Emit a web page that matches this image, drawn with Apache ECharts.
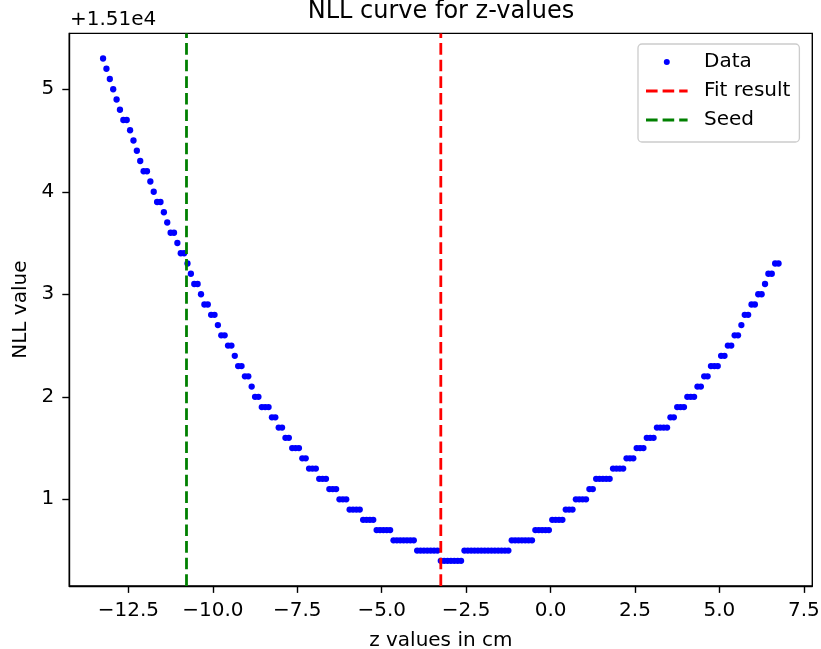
<!DOCTYPE html>
<html><head><meta charset="utf-8">
<script src="https://cdn.jsdelivr.net/npm/echarts@6/dist/echarts.min.js"></script>
<style>html,body{margin:0;padding:0;background:#fff}#c{width:821px;height:649px}</style>
</head><body><div id="c"></div>
<script>
const zValues = [
-13.25,-13.15,-13.05,-12.95,-12.85,-12.75,-12.65,-12.55,-12.45,-12.35,
-12.25,-12.15,-12.05,-11.95,-11.85,-11.75,-11.65,-11.55,-11.45,-11.35,
-11.25,-11.15,-11.05,-10.95,-10.85,-10.75,-10.65,-10.55,-10.45,-10.35,
-10.25,-10.15,-10.05,-9.95,-9.85,-9.75,-9.65,-9.55,-9.45,-9.35,
-9.25,-9.15,-9.05,-8.95,-8.85,-8.75,-8.65,-8.55,-8.45,-8.35,
-8.25,-8.15,-8.05,-7.95,-7.85,-7.75,-7.65,-7.55,-7.45,-7.35,
-7.25,-7.15,-7.05,-6.95,-6.85,-6.75,-6.65,-6.55,-6.45,-6.35,
-6.25,-6.15,-6.05,-5.95,-5.85,-5.75,-5.65,-5.55,-5.45,-5.35,
-5.25,-5.15,-5.05,-4.95,-4.85,-4.75,-4.65,-4.55,-4.45,-4.35,
-4.25,-4.15,-4.05,-3.95,-3.85,-3.75,-3.65,-3.55,-3.45,-3.35,
-3.25,-3.15,-3.05,-2.95,-2.85,-2.75,-2.65,-2.55,-2.45,-2.35,
-2.25,-2.15,-2.05,-1.95,-1.85,-1.75,-1.65,-1.55,-1.45,-1.35,
-1.25,-1.15,-1.05,-0.95,-0.85,-0.75,-0.65,-0.55,-0.45,-0.35,
-0.25,-0.15,-0.05,0.05,0.15,0.25,0.35,0.45,0.55,0.65,
0.75,0.85,0.95,1.05,1.15,1.25,1.35,1.45,1.55,1.65,
1.75,1.85,1.95,2.05,2.15,2.25,2.35,2.45,2.55,2.65,
2.75,2.85,2.95,3.05,3.15,3.25,3.35,3.45,3.55,3.65,
3.75,3.85,3.95,4.05,4.15,4.25,4.35,4.45,4.55,4.65,
4.75,4.85,4.95,5.05,5.15,5.25,5.35,5.45,5.55,5.65,
5.75,5.85,5.95,6.05,6.15,6.25,6.35,6.45,6.55,6.65,
6.75];
const nllValues = [
15105.3,15105.2,15105.1,15105.0,15104.9,15104.8,15104.7,15104.7,15104.6,15104.5,
15104.4,15104.3,15104.2,15104.2,15104.1,15104.0,15103.9,15103.9,15103.8,15103.7,
15103.6,15103.6,15103.5,15103.4,15103.4,15103.3,15103.2,15103.1,15103.1,15103.0,
15102.9,15102.9,15102.8,15102.8,15102.7,15102.6,15102.6,15102.5,15102.5,15102.4,
15102.3,15102.3,15102.2,15102.2,15102.1,15102.0,15102.0,15101.9,15101.9,15101.9,
15101.8,15101.8,15101.7,15101.7,15101.6,15101.6,15101.5,15101.5,15101.5,15101.4,
15101.4,15101.3,15101.3,15101.3,15101.2,15101.2,15101.2,15101.1,15101.1,15101.1,
15101.0,15101.0,15101.0,15100.9,15100.9,15100.9,15100.9,15100.8,15100.8,15100.8,
15100.8,15100.7,15100.7,15100.7,15100.7,15100.7,15100.6,15100.6,15100.6,15100.6,
15100.6,15100.6,15100.6,15100.5,15100.5,15100.5,15100.5,15100.5,15100.5,15100.5,
15100.4,15100.4,15100.4,15100.4,15100.4,15100.4,15100.4,15100.5,15100.5,15100.5,
15100.5,15100.5,15100.5,15100.5,15100.5,15100.5,15100.5,15100.5,15100.5,15100.5,
15100.5,15100.6,15100.6,15100.6,15100.6,15100.6,15100.6,15100.6,15100.7,15100.7,
15100.7,15100.7,15100.7,15100.8,15100.8,15100.8,15100.8,15100.9,15100.9,15100.9,
15101.0,15101.0,15101.0,15101.0,15101.1,15101.1,15101.2,15101.2,15101.2,15101.2,
15101.2,15101.3,15101.3,15101.3,15101.3,15101.4,15101.4,15101.4,15101.5,15101.5,
15101.5,15101.6,15101.6,15101.6,15101.7,15101.7,15101.7,15101.7,15101.8,15101.8,
15101.9,15101.9,15101.9,15102.0,15102.0,15102.0,15102.1,15102.1,15102.2,15102.2,
15102.3,15102.3,15102.3,15102.4,15102.4,15102.5,15102.5,15102.6,15102.6,15102.7,
15102.8,15102.8,15102.9,15102.9,15103.0,15103.0,15103.1,15103.2,15103.2,15103.3,
15103.3];
const fitResult = -3.25;
const seedValue = -10.78;
const xTicks = [-12.5, -10, -7.5, -5, -2.5, 0, 2.5, 5, 7.5];
const yTicks = [15101, 15102, 15103, 15104, 15105];
const yOffset = 15100;
const offsetLabel = '+1.51e4';
const xLimits = [-14.25, 7.75];
const yLimits = [15100.155, 15105.545];

const FONT = 'DejaVu Sans';
const fmtX = v => (v < 0 ? '\u2212' : '') + Math.abs(v).toFixed(1);
const fmtY = v => String(Math.round(v - yOffset));

const dotIcon = 'path://M0,0L0.01,0M53,14L52.99,14M17.8,7a3,3 0 1,0 6,0a3,3 0 1,0 -6,0Z';
const dashIcon = 'path://M0,0L0.01,0M53,14L52.99,14M0,5.5h11.6v3h-11.6zM16.6,5.5h11.6v3h-11.6zM33.2,5.5h8.4v3h-8.4z';

const chart = echarts.init(document.getElementById('c'), null, {renderer: 'canvas'});
const axisText = {fontFamily: FONT, fontSize: 20, color: '#000'};
chart.setOption({
  animation: false,
  backgroundColor: '#fff',
  title: {
    text: 'NLL curve for z-values', left: 441, top: 0, textAlign: 'center', padding: 0,
    textStyle: {fontFamily: FONT, fontSize: 24, fontWeight: 'normal', color: '#000'}
  },
  grid: {
    left: 69.3, right: 8.7, top: 33.4, bottom: 63.1,
    show: true, borderColor: '#000', borderWidth: 1.4, backgroundColor: 'transparent',
    outerBoundsMode: 'none'
  },
  legend: {
    orient: 'vertical', left: 638, top: 44,
    padding: [8, 9, 12, 8], backgroundColor: 'rgba(255,255,255,0.8)',
    borderColor: '#cccccc', borderWidth: 1.3, borderRadius: 4,
    itemWidth: 53, itemHeight: 14, itemGap: 9,
    textStyle: {fontFamily: FONT, fontSize: 20, color: '#000', lineHeight: 20},
    itemStyle: {borderWidth: 0},
    data: [
      {name: 'Data', icon: dotIcon, itemStyle: {color: '#0000ff', borderWidth: 0, opacity: 1}},
      {name: 'Fit result', icon: dashIcon, itemStyle: {color: '#ff0000', borderWidth: 0}},
      {name: 'Seed', icon: dashIcon, itemStyle: {color: '#008000', borderWidth: 0}}
    ]
  },
  xAxis: {
    type: 'value', min: xLimits[0], max: xLimits[1],
    name: 'z values in cm', nameLocation: 'middle', nameGap: 45,
    nameTextStyle: axisText,
    axisLine: {show: true, onZero: false, lineStyle: {color: '#000', width: 1.4}},
    axisTick: {show: true, inside: false, length: 7, lineStyle: {color: '#000', width: 1.4}, customValues: xTicks},
    axisLabel: {margin: 15, ...axisText, customValues: xTicks, formatter: fmtX},
    splitLine: {show: false}
  },
  yAxis: {
    type: 'value', min: yLimits[0], max: yLimits[1],
    name: 'NLL value', nameLocation: 'middle', nameGap: 37, nameRotate: 90,
    nameTextStyle: axisText,
    axisLine: {show: true, onZero: false, lineStyle: {color: '#000', width: 1.4}},
    axisTick: {show: true, inside: false, length: 7, lineStyle: {color: '#000', width: 1.4}, customValues: yTicks},
    axisLabel: {margin: 15, ...axisText, customValues: yTicks, formatter: fmtY},
    splitLine: {show: false}
  },
  graphic: [{
    type: 'text', x: 70, y: 20, silent: true,
    style: {text: offsetLabel, fontFamily: FONT, fontSize: 20, fill: '#000', align: 'left', verticalAlign: 'middle'}
  }],
  series: [
    {
      name: 'Data', type: 'scatter', symbol: 'circle', symbolSize: 6.3,
      itemStyle: {color: '#0000ff', opacity: 1},
      data: zValues.map((z, i) => [z, nllValues[i]])
    },
    {
      name: 'Fit result', type: 'line', symbol: 'none', silent: true,
      itemStyle: {color: '#ff0000'},
      lineStyle: {color: '#ff0000', width: 2.8, type: [11.6, 5]},
      data: [[fitResult, yLimits[0]], [fitResult, yLimits[1]]]
    },
    {
      name: 'Seed', type: 'line', symbol: 'none', silent: true,
      itemStyle: {color: '#008000'},
      lineStyle: {color: '#008000', width: 2.8, type: [11.6, 5]},
      data: [[seedValue, yLimits[0]], [seedValue, yLimits[1]]]
    }
  ]
});
</script>
</body></html>
